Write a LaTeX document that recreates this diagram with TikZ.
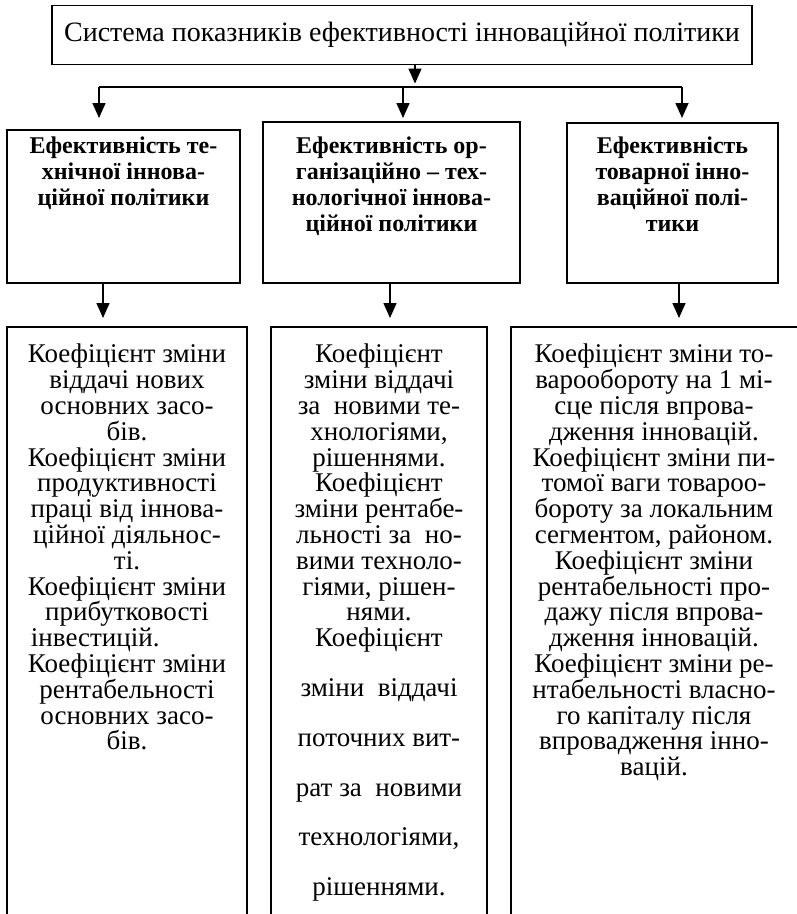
\documentclass[tikz,border=0pt]{standalone}
\usepackage{fontspec}
\setmainfont{Liberation Serif}
\usetikzlibrary{arrows.meta}
\begin{document}
\begin{tikzpicture}[x=1pt,y=-1pt,
  frame/.style={draw, line width=1.6pt, inner sep=0pt, outer sep=0pt},
  openframe/.style={line width=1.2pt},
  con/.style={line width=1.6pt},
  arr/.style={con, -{Triangle[length=15pt,width=13pt]}},
  head/.style={font=\fontsize{24}{26}\selectfont\bfseries, align=center, inner sep=0pt, anchor=north},
  body/.style={font=\fontsize{27}{25.8}\selectfont, align=center, inner sep=0pt, anchor=north},
  ghost/.style={inner sep=0pt, outer sep=0pt},
]
\useasboundingbox (0,0) rectangle (797,914);
\fill[white] (0,0) rectangle (797,914);

% top box
\node[frame, minimum width=700pt, minimum height=59pt, font=\fontsize{28}{30}\selectfont] (top) at (402,35)
  {Система показників ефективності інноваційної політики};

% heading boxes
\node[frame, minimum width=233pt, minimum height=153pt] (h1) at (123.5,206.5) {};
\node[frame, minimum width=257pt, minimum height=161pt] (h2) at (391.5,202.5) {};
\node[frame, minimum width=211pt, minimum height=160pt] (h3) at (672.5,203) {};

\node[head] (t1) at (123.5,137) {Ефективність те-\\хнічної іннова-\\ційної політики};
\node[head] (t2) at (391.5,137) {Ефективність ор-\\ганізаційно – тех-\\нологічної іннова-\\ційної політики};
\node[head] (t3) at (672.5,137) {Ефективність\\товарної інно-\\ваційної полі-\\тики};

% bottom frames (open at the bottom edge)
\node[ghost, minimum width=240pt, minimum height=587pt] (f1) at (127,620.5) {};
\node[ghost, minimum width=216pt, minimum height=587pt] (f2) at (379,620.5) {};
\node[ghost, minimum width=290pt, minimum height=587pt] (f3) at (656,620.5) {};
\draw[openframe] (f1.south west) -- (f1.north west) -- (f1.north east) -- (f1.south east);
\draw[openframe] (f2.south west) -- (f2.north west) -- (f2.north east) -- (f2.south east);
\draw[openframe] (f3.south west) -- (f3.north west) -- (f3.north east);

\node[body] (b1) at (127,344) {Коефіцієнт зміни\\віддачі нових\\основних засо-\\бів.\\Коефіцієнт зміни\\продуктивності\\праці від іннова-\\ційної діяльнос-\\ті.\\Коефіцієнт зміни\\прибутковості\\\rlap{\hspace{3pt}інвестицій.}\phantom{Коефіцієнт зміни}\\Коефіцієнт зміни\\рентабельності\\основних засо-\\бів.};

\node[body] (b2) at (379,344) {Коефіцієнт\\зміни віддачі\\за~ новими те-\\хнологіями,\\рішеннями.\\Коефіцієнт\\зміни рентабе-\\льності за~ но-\\вими техноло-\\гіями, рішен-\\нями.\\Коефіцієнт\\[24pt]зміни~ віддачі\\[24pt]поточних вит-\\[24pt]рат за~ новими\\[24pt]технологіями,\\[24pt]рішеннями.};

\node[body] (b3) at (654,344) {Коефіцієнт зміни то-\\варообороту на 1 мі-\\сце після впрова-\\дження інновацій.\\Коефіцієнт зміни пи-\\томої ваги товароо-\\бороту за локальним\\сегментом, районом.\\Коефіцієнт зміни\\рентабельності про-\\дажу після впрова-\\дження інновацій.\\Коефіцієнт зміни ре-\\нтабельності власно-\\го капіталу після\\впровадження інно-\\вацій.};

% connectors
\coordinate (jl) at (99,87);
\coordinate (jm) at (403,87);
\coordinate (jr) at (682,87);
\coordinate (ta) at (415,0);
\draw[arr] (top.south -| ta) -- ++(0,19);
\draw[con] (jl) -- (jr);
\draw[arr, shorten >=12pt] (jl) -- (jl |- h1.north);
\draw[arr, shorten >=4pt] (jm) -- (jm |- h2.north);
\draw[arr, shorten >=5pt] (jr) -- (jr |- h3.north);

\coordinate (x1) at (103,0);
\coordinate (x2) at (390,0);
\coordinate (x3) at (679,0);
\draw[arr, shorten >=9pt] (h1.south -| x1) -- (f1.north -| x1);
\draw[arr, shorten >=9pt] (h2.south -| x2) -- (f2.north -| x2);
\draw[arr, shorten >=9pt] (h3.south -| x3) -- (f3.north -| x3);
\end{tikzpicture}
\end{document}
